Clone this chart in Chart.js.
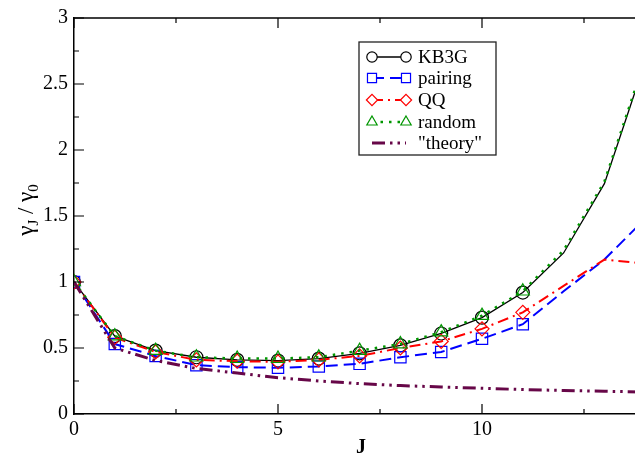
<!DOCTYPE html>
<html>
<head>
<meta charset="utf-8">
<script src="https://cdn.jsdelivr.net/npm/chart.js@4.4.1/dist/chart.umd.min.js"></script>
<style>
  html, body { margin: 0; padding: 0; background: #fff; overflow: hidden; }
  #wrap { width: 700px; height: 458px; }
</style>
</head>
<body>
<div id="wrap"><canvas id="chart" width="700" height="458"></canvas></div>
<script>
// values
const J = [0, 1, 2, 3, 4, 5, 6, 7, 8, 9, 10, 11, 12, 13, 14];
const kb3g    = [1.0, 0.59, 0.48, 0.43, 0.41, 0.405, 0.42, 0.46, 0.52, 0.61, 0.73, 0.92, 1.22, 1.745, 2.67];
const pairing = [1.0, 0.53, 0.44, 0.37, 0.355, 0.35, 0.36, 0.38, 0.43, 0.47, 0.57, 0.68, 0.93, 1.17, 1.48];
const qq      = [1.0, 0.58, 0.47, 0.41, 0.40, 0.395, 0.41, 0.44, 0.50, 0.55, 0.645, 0.77, 0.97, 1.17, 1.14];
const random  = [1.0, 0.59, 0.48, 0.43, 0.42, 0.42, 0.43, 0.48, 0.53, 0.62, 0.745, 0.93, 1.24, 1.76, 2.69];
const theory  = [1.0, 0.50, 0.405, 0.345, 0.31, 0.275, 0.25, 0.23, 0.215, 0.205, 0.195, 0.185, 0.178, 0.172, 0.167];
const seriesNames = ["KB3G", "pairing", "QQ", "random", "\"theory\""];
const lastMarked = 11; // symbols only drawn up to J = 11

const serif = "Liberation Serif";

function pts(vals) {
  return J.map((j, i) => ({ x: j, y: vals[i] }));
}
function radii(r) {
  return J.map(j => (j <= lastMarked ? r : 0));
}

const datasets = [
  { label: seriesNames[0], data: pts(kb3g), borderColor: "#000", borderWidth: 1.3,
    pointStyle: "circle", pointRadius: radii(6.5), pointBorderWidth: 1.2, order: 5 },
  { label: seriesNames[1], data: pts(pairing), borderColor: "#0000ff", borderWidth: 2,
    borderDash: [12, 6], pointStyle: "rect", pointRadius: radii(8), pointBorderWidth: 1.2, order: 4 },
  { label: seriesNames[2], data: pts(qq), borderColor: "#ff0000", borderWidth: 2,
    borderDash: [11, 5, 2, 5], pointStyle: "rectRot", pointRadius: radii(7), pointBorderWidth: 1.2, order: 3 },
  { label: seriesNames[3], data: pts(random), borderColor: "#009600", borderWidth: 2.5,
    borderDash: [2.5, 6], pointStyle: "triangle", pointRadius: radii(7.5), pointBorderWidth: 1.2, order: 2 },
  { label: seriesNames[4], data: pts(theory), borderColor: "#670748", borderWidth: 3,
    borderDash: [13, 5, 2.5, 5, 2.5, 5], pointRadius: 0, order: 1 },
];
datasets.forEach(d => {
  d.backgroundColor = "transparent";
  d.pointBackgroundColor = "transparent";
  d.pointBorderColor = d.borderColor;
  d.tension = 0;
  d.fill = false;
});

// frame, inward ticks, axis titles and the boxed legend
const decor = {
  id: "decor",
  afterDraw(chart) {
    const ctx = chart.ctx;
    const a = chart.chartArea;
    const xs = chart.scales.x, ys = chart.scales.y;
    ctx.save();
    ctx.strokeStyle = "#000";
    ctx.lineWidth = 1.5;
    ctx.setLineDash([]);
    ctx.beginPath();
    ctx.moveTo(a.left, a.top);
    ctx.lineTo(a.right, a.top);
    ctx.lineTo(a.right, a.bottom);
    ctx.stroke();

    ctx.lineWidth = 1.2;
    for (let v = 0; v <= 3.001; v += 0.25) {
      const y = ys.getPixelForValue(v);
      const len = Math.abs(v * 2 - Math.round(v * 2)) < 1e-6 ? 10 : 5;
      ctx.beginPath();
      ctx.moveTo(a.left, y); ctx.lineTo(a.left + len, y);
      ctx.moveTo(a.right, y); ctx.lineTo(a.right - len, y);
      ctx.stroke();
    }
    for (let v = 0; v <= 15.001; v += 2.5) {
      const x = xs.getPixelForValue(v);
      const len = v % 5 === 0 ? 10 : 5;
      ctx.beginPath();
      ctx.moveTo(x, a.bottom); ctx.lineTo(x, a.bottom - len);
      ctx.moveTo(x, a.top); ctx.lineTo(x, a.top + len);
      ctx.stroke();
    }

    // x title
    ctx.fillStyle = "#000";
    ctx.font = "bold 20px '" + serif + "'";
    ctx.textAlign = "center";
    ctx.textBaseline = "alphabetic";
    ctx.fillText("J", 361, 453);

    // y title with subscripts
    const parts = [["\u03b3", 23, 0], ["J", 15, 5], [" / ", 23, 0], ["\u03b3", 23, 0], ["0", 15, 5]];
    let total = 0;
    parts.forEach(p => { ctx.font = p[1] + "px '" + serif + "'"; p.push(ctx.measureText(p[0]).width); total += p[3]; });
    ctx.translate(27, 210);
    ctx.rotate(-Math.PI / 2);
    ctx.textAlign = "left";
    let cx = -total / 2;
    parts.forEach(p => {
      ctx.font = p[1] + "px '" + serif + "'";
      ctx.fillText(p[0], cx, 6 + p[2]);
      cx += p[3];
    });
    ctx.setTransform(1, 0, 0, 1, 0, 0);

    // legend box
    const bx = 359, by = 42, bw = 137, bh = 113;
    ctx.fillStyle = "#fff";
    ctx.fillRect(bx, by, bw, bh);
    ctx.strokeStyle = "#222";
    ctx.lineWidth = 1.3;
    ctx.strokeRect(bx, by, bw, bh);
    const rowY = [57, 78, 100, 122, 143];
    chart.data.datasets.forEach((d, i) => {
      const y = rowY[i];
      ctx.save();
      ctx.strokeStyle = d.borderColor;
      ctx.lineWidth = d.borderWidth;
      ctx.setLineDash(d.borderDash || []);
      ctx.beginPath();
      ctx.moveTo(372, y); ctx.lineTo(406, y);
      ctx.stroke();
      ctx.setLineDash([]);
      if (d.pointStyle && d.pointRadius) {
        const r = (Array.isArray(d.pointRadius) ? d.pointRadius[0] : d.pointRadius) * 0.8;
        ctx.lineWidth = d.pointBorderWidth;
        ctx.fillStyle = "#fff";
        [372, 406].forEach(px => {
          Chart.helpers.drawPoint(ctx, { pointStyle: d.pointStyle, radius: r, rotation: 0, borderWidth: d.pointBorderWidth }, px, y);
        });
      }
      ctx.restore();
      ctx.fillStyle = "#000";
      ctx.font = "19px '" + serif + "'";
      ctx.textAlign = "left";
      ctx.textBaseline = "middle";
      ctx.fillText(d.label, 418, y + 1);
    });
    ctx.restore();
  }
};

new Chart(document.getElementById("chart"), {
  type: "line",
  data: { datasets: datasets },
  options: {
    responsive: false,
    animation: false,
    events: [],
    layout: { padding: { left: 0, top: 15, right: 14, bottom: 0 } },
    plugins: { legend: { display: false }, tooltip: { enabled: false } },
    scales: {
      x: {
        type: "linear",
        min: 0, max: 15,
        grid: { display: false, drawTicks: false },
        border: { display: true, color: "#000", width: 1.5 },
        ticks: { stepSize: 5, color: "#000", padding: 4, font: { family: serif, size: 20 },
          callback: v => String(v) },
        afterFit: s => { s.height = 44; },
      },
      y: {
        min: 0, max: 3,
        grid: { display: false, drawTicks: false },
        border: { display: true, color: "#000", width: 1.5 },
        ticks: { stepSize: 0.5, color: "#000", padding: 6, font: { family: serif, size: 20 },
          callback: v => String(v) },
        afterFit: s => { s.width = 74; },
      },
    },
  },
  plugins: [decor],
});
</script>
</body>
</html>
